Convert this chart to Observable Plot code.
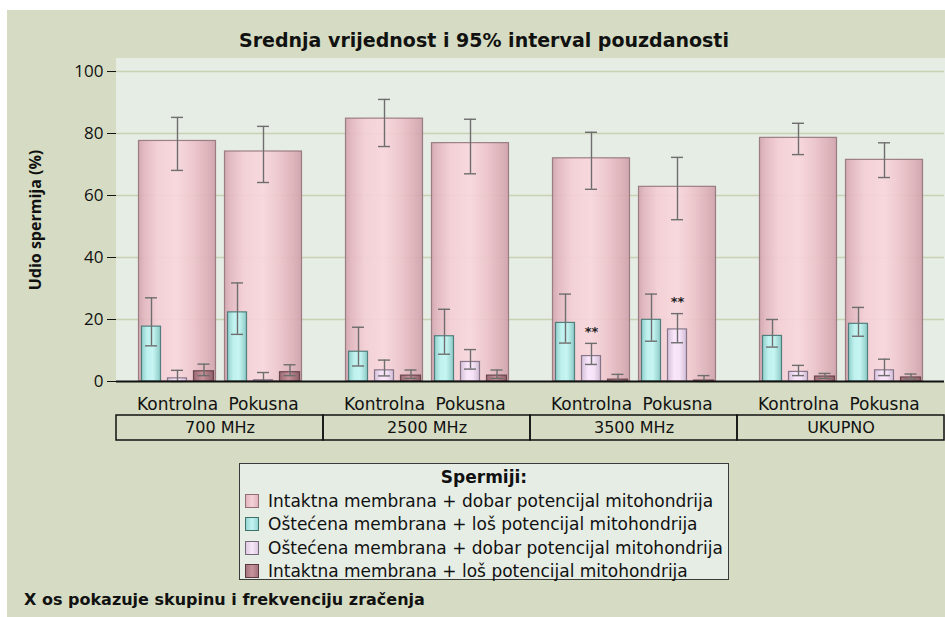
<!DOCTYPE html>
<html>
<head>
<meta charset="utf-8">
<script src="https://cdn.jsdelivr.net/npm/d3@7"></script>
<script src="https://cdn.jsdelivr.net/npm/@observablehq/plot@0.6"></script>
<style>
html, body { margin:0; padding:0; width:945px; height:617px; overflow:hidden; background:#fff; }
#page { position:absolute; left:7px; top:10px; right:0; bottom:0; background:#d5dcc3; }
.abs { position:absolute; }
#title { left:484px; top:27px; transform:translateX(-50%); font-family:"DejaVu Sans",sans-serif; font-weight:bold; font-size:19px; line-height:26px; white-space:nowrap; color:#111; }
#ylabel { left:35px; top:220px; transform:translate(-50%,-50%) rotate(-90deg); font-family:"Open Sans",sans-serif; font-weight:bold; font-size:16px; line-height:20px; white-space:nowrap; color:#111; }
#main { left:0; top:50px; }
#grouprow { left:0; top:414px; }
#legend { left:239px; top:463px; width:490px; height:117px; border:1px solid #3a3a3a; background:#e6ede5; box-sizing:border-box; font-family:"DejaVu Sans",sans-serif; color:#111; }
#legend .ltitle { position:absolute; left:0; right:0; top:2px; text-align:center; font-weight:bold; font-family:"DejaVu Sans",sans-serif; font-size:17px; line-height:22px; }
#legend .row { position:absolute; left:5px; height:22px; line-height:22px; font-size:17px; white-space:nowrap; }
#legend .sw { position:absolute; left:0; top:4px; width:12px; height:12px; border:1px solid #666; }
#legend .lab { position:absolute; left:23px; top:0; }
#foot { left:24px; top:589px; font-family:"DejaVu Sans",sans-serif; font-weight:bold; font-size:16px; line-height:22px; white-space:nowrap; color:#111; }
</style>
</head>
<body>
<svg width="0" height="0" style="position:absolute">
  <defs>
    <linearGradient id="gPink" x1="0" x2="1" y1="0" y2="0">
      <stop offset="0" stop-color="#d3a3ad"/>
      <stop offset="0.08" stop-color="#e3b6bf"/>
      <stop offset="0.25" stop-color="#f4ced5"/>
      <stop offset="0.5" stop-color="#f9d6dc"/>
      <stop offset="0.7" stop-color="#eec5cc"/>
      <stop offset="0.88" stop-color="#ddb0b8"/>
      <stop offset="1" stop-color="#cfa0a9"/>
    </linearGradient>
    <linearGradient id="gCyan" x1="0" x2="1" y1="0" y2="0">
      <stop offset="0" stop-color="#8fcfcb"/>
      <stop offset="0.3" stop-color="#bff1ee"/>
      <stop offset="0.6" stop-color="#c6f5f2"/>
      <stop offset="1" stop-color="#8ccac6"/>
    </linearGradient>
    <linearGradient id="gLav" x1="0" x2="1" y1="0" y2="0">
      <stop offset="0" stop-color="#d4c0d8"/>
      <stop offset="0.35" stop-color="#f9e6fa"/>
      <stop offset="0.65" stop-color="#f7e3f8"/>
      <stop offset="1" stop-color="#cfbbd3"/>
    </linearGradient>
    <linearGradient id="gDark" x1="0" x2="1" y1="0" y2="0">
      <stop offset="0" stop-color="#9a6a73"/>
      <stop offset="0.45" stop-color="#c69099"/>
      <stop offset="1" stop-color="#8d5f68"/>
    </linearGradient>
  </defs>
</svg>
<div id="page"></div>
<div id="title" class="abs">Srednja vrijednost i 95% interval pouzdanosti</div>
<div id="ylabel" class="abs">Udio spermija (%)</div>
<div id="main" class="abs"></div>
<div id="grouprow" class="abs"></div>
<div id="legend" class="abs"></div>
<div id="foot" class="abs">X os pokazuje skupinu i frekvenciju zračenja</div>
<script>
// ---------- DATA ----------
const groups = ["700 MHz", "2500 MHz", "3500 MHz", "UKUPNO"];
const conditions = ["Kontrolna", "Pokusna"];
const seriesNames = [
  "Intaktna membrana + dobar potencijal mitohondrija",
  "Oštećena membrana + loš potencijal mitohondrija",
  "Oštećena membrana + dobar potencijal mitohondrija",
  "Intaktna membrana + loš potencijal mitohondrija"
];
const yTicks = [0, 20, 40, 60, 80, 100];
const legendTitle = "Spermiji:";

// order of values: 700 K, 700 P, 2500 K, 2500 P, 3500 K, 3500 P, UKUPNO K, UKUPNO P
const intactGoodMean = [77.6, 74.2, 84.8, 76.9, 72.0, 62.8, 78.6, 71.5];
const intactGoodLow  = [68.1, 64.2, 75.8, 67.0, 62.0, 52.2, 73.2, 65.8];
const intactGoodHigh = [85.2, 82.3, 91.0, 84.6, 80.4, 72.3, 83.3, 77.0];

const damagedBadMean = [17.7, 22.3, 9.6, 14.6, 18.9, 19.9, 14.7, 18.6];
const damagedBadLow  = [11.5, 15.2, 5.0, 8.8, 12.4, 13.0, 11.1, 14.6];
const damagedBadHigh = [27.0, 31.8, 17.5, 23.3, 28.2, 28.2, 20.0, 23.9];

const damagedGoodMean = [1.0, 0.4, 3.6, 6.3, 8.2, 16.8, 3.1, 3.6];
const damagedGoodLow  = [0.0, 0.0, 1.8, 4.0, 5.5, 12.5, 1.9, 1.9];
const damagedGoodHigh = [3.6, 2.9, 6.9, 10.3, 12.3, 21.9, 5.2, 7.2];

const intactBadMean = [3.3, 3.0, 1.9, 1.9, 0.6, 0.3, 1.6, 1.3];
const intactBadLow  = [1.9, 1.9, 1.0, 1.0, 0.0, 0.0, 1.0, 0.8];
const intactBadHigh = [5.6, 5.4, 3.7, 3.7, 2.3, 1.9, 2.6, 2.4];

// significance markers on "Oštećena membrana + dobar potencijal" bars
const damagedGoodMarks = ["", "", "", "", "**", "**", "", ""];

// ---------- TABLE ----------
const means = [intactGoodMean, damagedBadMean, damagedGoodMean, intactBadMean];
const lows = [intactGoodLow, damagedBadLow, damagedGoodLow, intactBadLow];
const highs = [intactGoodHigh, damagedBadHigh, damagedGoodHigh, intactBadHigh];
const rows = [];
seriesNames.forEach((s, si) => {
  groups.forEach((g, gi) => {
    conditions.forEach((c, ci) => {
      const i = gi * 2 + ci;
      rows.push({series: si, group: g, cond: c, mean: means[si][i], lo: lows[si][i], hi: highs[si][i],
        label: si === 2 ? damagedGoodMarks[i] : ""});
    });
  });
});

// ---------- STYLE ----------
const plotBg = "#e6ede5";
const gridColor = "#c9d1b4";
const errColor = "#6e6e6e";
const fills = ["url(#gPink)", "url(#gCyan)", "url(#gLav)", "url(#gDark)"];
const strokes = ["#8f6e75", "#3e716e", "#75667a", "#5a3a41"];
const barInsets = [[4.5, 4.5], [7.5, 59.5], [33.5, 33.5], [59.5, 6.5]];
const capInsets = [[37, 37], [11, 63], [37, 37], [63.5, 10.5]];
const ruleDx = [0, -26, 0, 26.5];

function seriesMarks(si) {
  const f = d => d.series === si;
  return [
    Plot.barY(rows, {filter: f, x: "cond", y: "mean", fill: fills[si], fillOpacity: si === 0 ? 0.9 : 1,
      stroke: strokes[si], strokeOpacity: 0.85, strokeWidth: 1.2,
      insetLeft: barInsets[si][0], insetRight: barInsets[si][1]}),
    Plot.ruleX(rows, {filter: f, x: "cond", y1: "lo", y2: "hi", dx: ruleDx[si], stroke: errColor, strokeWidth: 1.4}),
    Plot.tickY(rows, {filter: f, x: "cond", y: "hi", stroke: errColor, strokeWidth: 1.4,
      insetLeft: capInsets[si][0], insetRight: capInsets[si][1]}),
    Plot.tickY(rows, {filter: f, x: "cond", y: "lo", stroke: errColor, strokeWidth: 1.4,
      insetLeft: capInsets[si][0], insetRight: capInsets[si][1]})
  ];
}

const chart = Plot.plot({
  width: 945,
  height: 361,
  marginLeft: 114,
  marginRight: 0,
  marginTop: 8,
  marginBottom: 30,
  style: {background: "transparent", fontFamily: "DejaVu Sans", fontSize: "17px", color: "#111", overflow: "visible"},
  facet: {data: rows, x: "group"},
  fx: {domain: groups, padding: 0, axis: null, label: null},
  x: {domain: conditions, paddingInner: 0, paddingOuter: 0.194, tickSize: 0, tickPadding: 16, label: null},
  y: {domain: [0, 104.2], ticks: yTicks, tickSize: 9, tickPadding: 4, label: null, line: true, tickFormat: d => String(d)},
  marks: [
    Plot.frame({fill: plotBg, stroke: plotBg}),
    Plot.ruleY(yTicks.filter(d => d > 0), {stroke: gridColor, strokeWidth: 1.5}),
    ...seriesMarks(0),
    ...seriesMarks(1),
    ...seriesMarks(2),
    ...seriesMarks(3),
    Plot.text(rows, {filter: d => d.label, x: "cond", y: "hi", text: "label", dy: -12, fontSize: 13, fontWeight: "bold", fill: "#222"}),
    Plot.ruleY([0], {stroke: "#111", strokeWidth: 2})
  ]
});
d3.select(chart).selectAll('g[aria-label^="y-axis"] text').attr("font-family", "Open Sans").attr("font-size", 17);
document.getElementById("main").appendChild(chart);

const groupRow = Plot.plot({
  width: 945,
  height: 27,
  marginLeft: 114,
  marginRight: 0,
  marginTop: 1,
  marginBottom: 1,
  style: {background: "transparent", fontFamily: "DejaVu Sans", fontSize: "16px", color: "#111", overflow: "visible"},
  x: {domain: groups, padding: 0, axis: null},
  marks: [
    Plot.cell(groups, {x: d => d, fill: "none", stroke: "#111", strokeWidth: 1.5}),
    Plot.text(groups, {x: d => d, text: d => d, fontSize: 16, fill: "#111"})
  ]
});
document.getElementById("grouprow").appendChild(groupRow);

// ---------- LEGEND ----------
const swatchCss = [
  "linear-gradient(90deg,#e2b4bd,#f6d2d8,#e2b4bd)",
  "linear-gradient(90deg,#96d6d2,#c4f4f1,#96d6d2)",
  "linear-gradient(90deg,#dccadf,#f9e7fa,#dccadf)",
  "linear-gradient(90deg,#a5747d,#c8939c,#a5747d)"
];
const legend = document.getElementById("legend");
const lt = document.createElement("div");
lt.className = "ltitle";
lt.textContent = legendTitle;
legend.appendChild(lt);
seriesNames.forEach((name, i) => {
  const row = document.createElement("div");
  row.className = "row";
  row.style.top = (26 + i * 23.4) + "px";
  const sw = document.createElement("div");
  sw.className = "sw";
  sw.style.background = swatchCss[i];
  sw.style.borderColor = strokes[i];
  const lab = document.createElement("span");
  lab.className = "lab";
  lab.textContent = name;
  row.appendChild(sw);
  row.appendChild(lab);
  legend.appendChild(row);
});
</script>
</body>
</html>
